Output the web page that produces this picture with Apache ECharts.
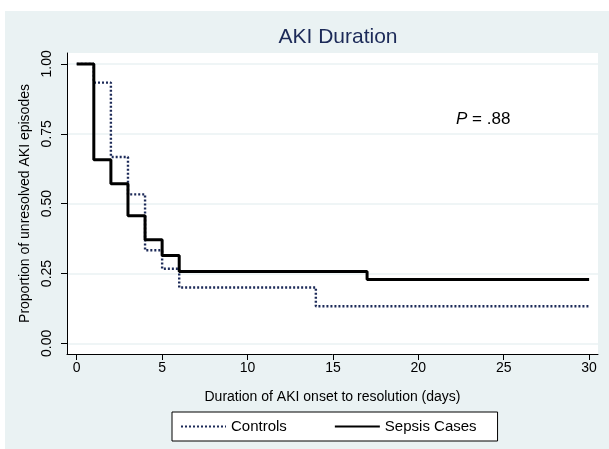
<!DOCTYPE html>
<html>
<head>
<meta charset="utf-8">
<title>AKI Duration</title>
<script src="https://cdn.jsdelivr.net/npm/echarts@6.0.0/dist/echarts.min.js"></script>
<style>
  html, body { margin: 0; padding: 0; background: #fff; }
  #chart { width: 609px; height: 449px; }
</style>
</head>
<body>
<div id="chart"></div>
<script>
// Kaplan-Meier style curves
const controlDays = [0, 1, 2, 3, 4, 5, 6, 14, 30];
const controlProp = [1.0, 0.933, 0.667, 0.533, 0.333, 0.267, 0.2, 0.133, 0.133];

const sepsisDays = [0, 1, 2, 3, 4, 5, 6, 17, 30];
const sepsisProp = [1.0, 0.657, 0.571, 0.457, 0.371, 0.314, 0.257, 0.229, 0.229];

const xTicks = [0, 5, 10, 15, 20, 25, 30];
const yTicks = [0, 0.25, 0.5, 0.75, 1];

const bgColor = '#eaf2f3';
const navy = '#1c2a58';

const chart = echarts.init(document.getElementById('chart'), null, { renderer: 'canvas' });

const pairs = (xs, ys) => xs.map((x, i) => [x, ys[i]]);

chart.setOption({
  animation: false,
  backgroundColor: bgColor,
  textStyle: { fontFamily: 'Liberation Sans, Arial, sans-serif' },
  title: {
    text: 'AKI Duration',
    left: 333,
    top: 22,
    textAlign: 'center',
    textStyle: { fontSize: 21, fontWeight: 'normal', color: navy }
  },
  grid: {
    left: 67, top: 53, width: 531, height: 301,
    show: true, backgroundColor: '#fff', borderWidth: 0,
    containLabel: false
  },
  legend: {
    left: 172, top: 412,
    itemWidth: 45, itemHeight: 14, itemGap: 47,
    padding: [7, 21, 7, 8],
    borderColor: '#000', borderWidth: 1, borderRadius: 0,
    backgroundColor: '#fff',
    itemStyle: { opacity: 0, borderWidth: 0 },
    textStyle: { fontSize: 15, color: '#000' },
    data: ['Controls', 'Sepsis Cases']
  },
  xAxis: {
    type: 'value',
    min: -0.57, max: 30.52,
    name: 'Duration of AKI onset to resolution (days)',
    nameLocation: 'middle',
    nameGap: 36,
    nameTextStyle: { fontSize: 14, color: '#000' },
    axisLine: { show: true, onZero: false, lineStyle: { color: '#000', width: 1 } },
    axisTick: { show: true, length: 6, customValues: xTicks, lineStyle: { color: '#000' } },
    axisLabel: { customValues: xTicks, fontSize: 14, color: '#000', margin: 7 },
    splitLine: { show: false }
  },
  yAxis: {
    type: 'value',
    min: -0.038, max: 1.039,
    name: 'Proportion of unresolved AKI episodes',
    nameLocation: 'middle',
    nameGap: 33,
    nameTextStyle: { fontSize: 14, color: '#000' },
    axisLine: { show: true, onZero: false, lineStyle: { color: '#000', width: 1 } },
    axisTick: { show: true, length: 6, customValues: yTicks, lineStyle: { color: '#000' } },
    axisLabel: {
      customValues: yTicks, fontSize: 14, color: '#000', margin: 13, rotate: 90,
      formatter: v => v.toFixed(2)
    },
    splitLine: { show: true, lineStyle: { color: bgColor, width: 1.5 } }
  },
  graphic: [
    { type: 'rect', shape: { x: 0, y: 0, width: 609, height: 11 }, style: { fill: '#fff' }, silent: true },
    { type: 'rect', shape: { x: 0, y: 0, width: 5, height: 449 }, style: { fill: '#fff' }, silent: true },
    {
      type: 'text', x: 456, y: 111, silent: true,
      style: {
        text: '{i|P} = .88',
        fontSize: 17, fill: '#000',
        rich: { i: { fontStyle: 'italic', fontSize: 17, fill: '#000' } }
      }
    }
  ],
  series: [
    {
      name: 'Controls',
      type: 'line',
      step: 'end',
      symbol: 'none',
      data: pairs(controlDays, controlProp),
      lineStyle: { color: navy, width: 2.4, type: [2, 2] },
      itemStyle: { color: navy }
    },
    {
      name: 'Sepsis Cases',
      type: 'line',
      step: 'end',
      symbol: 'none',
      data: pairs(sepsisDays, sepsisProp),
      lineStyle: { color: '#000', width: 3 },
      itemStyle: { color: '#000' }
    }
  ]
});
</script>
</body>
</html>
